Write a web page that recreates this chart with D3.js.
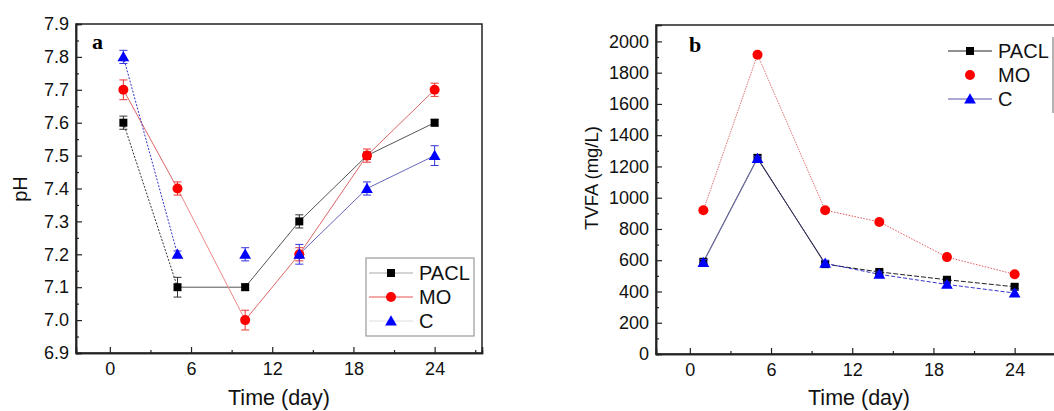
<!DOCTYPE html>
<html>
<head>
<meta charset="utf-8">
<script src="https://cdn.jsdelivr.net/npm/d3@7"></script>
<style>
  body { margin: 0; background: #fff; }
  svg { display: block; font-family: "Liberation Sans", Arial, sans-serif; }
</style>
</head>
<body>
<svg id="chart" width="1054" height="411"></svg>
<script>
// ---- data ----
var days = [1, 5, 10, 14, 19, 24];

// panel a : pH
var phPACL = [7.6, 7.1, 7.1, 7.3, 7.5, 7.6];
var phMO   = [7.7, 7.4, 7.0, 7.2, 7.5, 7.7];
var phC    = [7.8, 7.2, 7.2, 7.2, 7.4, 7.5];
var phErrPACL = [0.02, 0.03, 0.01, 0.02, 0.01, 0.01];
var phErrMO   = [0.03, 0.02, 0.03, 0.02, 0.02, 0.02];
var phErrC    = [0.02, 0.01, 0.02, 0.03, 0.02, 0.03];

// panel b : TVFA
var vfaPACL = [590, 1255, 575, 525, 475, 430];
var vfaMO   = [920, 1915, 920, 845, 620, 510];
var vfaC    = [585, 1250, 580, 510, 445, 390];
var vfaErrPACL = [15, 20, 15, 12, 12, 12];
var vfaErrMO   = [15, 15, 15, 12, 12, 12];
var vfaErrC    = [20, 15, 20, 15, 15, 20];

var seriesNames = ["PACL", "MO", "C"];
var xMajor = [0, 6, 12, 18, 24];
var xMinor = [3, 9, 15, 21, 27];

var svg = d3.select("#chart");

var markColor = { PACL: "#000", MO: "#f00", C: "#00f" };

function drawMarker(g, name, cx, cy) {
  if (name == "PACL") {
    g.append("rect").attr("x", cx - 4).attr("y", cy - 4).attr("width", 8).attr("height", 8)
      .attr("fill", markColor.PACL);
  } else if (name == "MO") {
    g.append("circle").attr("cx", cx).attr("cy", cy).attr("r", 5).attr("fill", markColor.MO);
  } else {
    g.append("path").attr("d", d3.symbol(d3.symbolTriangle, 60)())
      .attr("transform", "translate(" + cx + "," + (cy + 1) + ")")
      .attr("fill", markColor.C);
  }
}

// segs: [from, to, color, dash] (indices into days)
function drawPanel(opt) {
  var x = d3.scaleLinear().domain([-2.5, 27.5]).range([opt.left, opt.right]);
  var y = d3.scaleLinear().domain(opt.yDomain).range([opt.bottom, opt.top]);
  var g = svg.append("g");

  // frame
  g.append("rect").attr("x", opt.left).attr("y", opt.top)
    .attr("width", opt.right - opt.left).attr("height", opt.bottom - opt.top)
    .attr("fill", "none").attr("stroke", "#222").attr("stroke-width", 1.5);

  // axes, ticks inside
  g.append("g").attr("transform", "translate(0," + opt.bottom + ")")
    .call(d3.axisBottom(x).tickValues(xMajor).tickSize(-6).tickPadding(9));
  g.append("g").attr("transform", "translate(0," + opt.bottom + ")")
    .call(d3.axisBottom(x).tickValues(xMinor).tickSize(-3).tickFormat(""));
  g.append("g").attr("transform", "translate(" + opt.left + ",0)")
    .call(d3.axisLeft(y).tickValues(opt.yMajor).tickSize(-6).tickPadding(7).tickFormat(opt.yFmt));
  g.append("g").attr("transform", "translate(" + opt.left + ",0)")
    .call(d3.axisLeft(y).tickValues(opt.yMinor).tickSize(-3).tickFormat(""));
  g.selectAll(".domain").attr("stroke", "#222").attr("stroke-width", 1.5);
  g.selectAll(".tick line").attr("stroke", "#222").attr("stroke-width", 1.2);
  g.selectAll(".tick text").attr("font-size", 18).attr("fill", "#111")
    .attr("font-family", "Liberation Sans, Arial, sans-serif");

  // axis titles
  g.append("text").attr("x", (x(-2.5) + x(27.5)) / 2).attr("y", 405)
    .attr("text-anchor", "middle").attr("font-size", 21.5).attr("fill", "#111").text("Time (day)");
  g.append("text").attr("transform", "translate(" + opt.ylabX + "," + opt.ylabY + ") rotate(-90)")
    .attr("text-anchor", "middle").attr("font-size", opt.ylabSize).attr("fill", "#111").text(opt.ylab);

  // panel letter
  g.append("text").attr("x", opt.letterX).attr("y", opt.letterY)
    .attr("font-family", "Liberation Serif, Times New Roman, serif").attr("font-weight", "bold")
    .attr("font-size", 22).attr("fill", "#000").text(opt.letter);

  // lines
  opt.series.forEach(function (s) {
    s.segs.forEach(function (sg) {
      g.append("line")
        .attr("x1", x(days[sg[0]])).attr("y1", y(s.values[sg[0]]))
        .attr("x2", x(days[sg[1]])).attr("y2", y(s.values[sg[1]]))
        .attr("stroke", sg[2]).attr("stroke-width", 1)
        .attr("stroke-dasharray", sg[3] || null);
    });
  });

  // error bars + markers
  opt.series.forEach(function (s) {
    s.values.forEach(function (v, i) {
      var cx = x(days[i]), e = s.err[i];
      var ec = s.errColor;
      g.append("line").attr("x1", cx).attr("x2", cx).attr("y1", y(v - e)).attr("y2", y(v + e))
        .attr("stroke", ec).attr("stroke-width", 1);
      [v - e, v + e].forEach(function (t) {
        g.append("line").attr("x1", cx - 4).attr("x2", cx + 4).attr("y1", y(t)).attr("y2", y(t))
          .attr("stroke", ec).attr("stroke-width", 1);
      });
    });
    s.values.forEach(function (v, i) {
      drawMarker(g, s.name, x(days[i]), y(v));
    });
  });

  // legend
  var L = opt.legend;
  if (L.box) {
    g.append("rect").attr("x", L.box[0]).attr("y", L.box[1]).attr("width", L.box[2]).attr("height", L.box[3])
      .attr("fill", "#fff").attr("stroke", "#999").attr("stroke-width", 1.2);
  }
  if (L.edge) {
    g.append("line").attr("x1", L.edge[0]).attr("x2", L.edge[0]).attr("y1", L.edge[1]).attr("y2", L.edge[2])
      .attr("stroke", "#999").attr("stroke-width", 1.5);
  }
  seriesNames.forEach(function (n, i) {
    var ly = L.y0 + i * L.dy;
    if (L.lines[i]) {
      g.append("line").attr("x1", L.x0).attr("x2", L.x0 + 44).attr("y1", ly).attr("y2", ly)
        .attr("stroke", L.lines[i]).attr("stroke-width", 1.2);
    }
    drawMarker(g, n, L.x0 + 22, ly);
    g.append("text").attr("x", L.x0 + 50).attr("y", ly + 7).attr("font-size", 20)
      .attr("fill", "#111").text(n);
  });
}

drawPanel({
  left: 76, right: 482, top: 24, bottom: 353,
  yDomain: [6.9, 7.9],
  yMajor: d3.range(0, 11).map(function (i) { return 6.9 + i * 0.1; }),
  yMinor: d3.range(0, 10).map(function (i) { return 6.95 + i * 0.1; }),
  yFmt: d3.format(".1f"),
  ylab: "pH", ylabX: 27, ylabY: 189, ylabSize: 20,
  letter: "a", letterX: 92, letterY: 49,
  series: [
    { name: "PACL", values: phPACL, err: phErrPACL, errColor: "#333",
      segs: [[0, 1, "#333", "2,1.5"], [1, 2, "#555"], [2, 3, "#555"], [3, 4, "#555"], [4, 5, "#555"]] },
    { name: "MO", values: phMO, err: phErrMO, errColor: "#e33",
      segs: [[0, 1, "#d66"], [1, 2, "#e88"], [2, 3, "#d66"], [3, 4, "#d66"], [4, 5, "#d66"]] },
    { name: "C", values: phC, err: phErrC, errColor: "#33d",
      segs: [[0, 1, "#33c", "2,1.5"], [3, 4, "#66b"], [4, 5, "#66b"]] }
  ],
  legend: { box: [366, 258, 108, 78], x0: 369, y0: 273, dy: 24, lines: ["#aaa", "#e55", "#ddd"] }
});

drawPanel({
  left: 656, right: 1062, top: 25, bottom: 354,
  yDomain: [0, 2105],
  yMajor: d3.range(0, 2001, 200),
  yMinor: d3.range(100, 2000, 200),
  yFmt: d3.format("d"),
  ylab: "TVFA (mg/L)", ylabX: 598, ylabY: 178, ylabSize: 18.5,
  letter: "b", letterX: 689, letterY: 52,
  series: [
    { name: "PACL", values: vfaPACL, err: vfaErrPACL, errColor: "#333",
      segs: [[0, 1, "#444"], [1, 2, "#333"], [2, 3, "#222", "5,2"], [3, 4, "#222", "5,2"], [4, 5, "#222", "5,2"]] },
    { name: "MO", values: vfaMO, err: vfaErrMO, errColor: "#e33",
      segs: [[0, 1, "#d77", "1.5,1"], [1, 2, "#d77", "1.5,1"], [2, 3, "#d55", "1.5,1.5"], [3, 4, "#d55", "1.5,1.5"], [4, 5, "#d55", "1.5,1.5"]] },
    { name: "C", values: vfaC, err: vfaErrC, errColor: "#33d",
      segs: [[0, 1, "#77b"], [1, 2, "#336"], [2, 3, "#33c", "4,2"], [3, 4, "#33c", "4,2"], [4, 5, "#33c", "4,2"]] }
  ],
  legend: { edge: [1053, 37, 113], x0: 948, y0: 51, dy: 24, lines: ["#222", null, "#55a"] }
});
</script>
</body>
</html>
